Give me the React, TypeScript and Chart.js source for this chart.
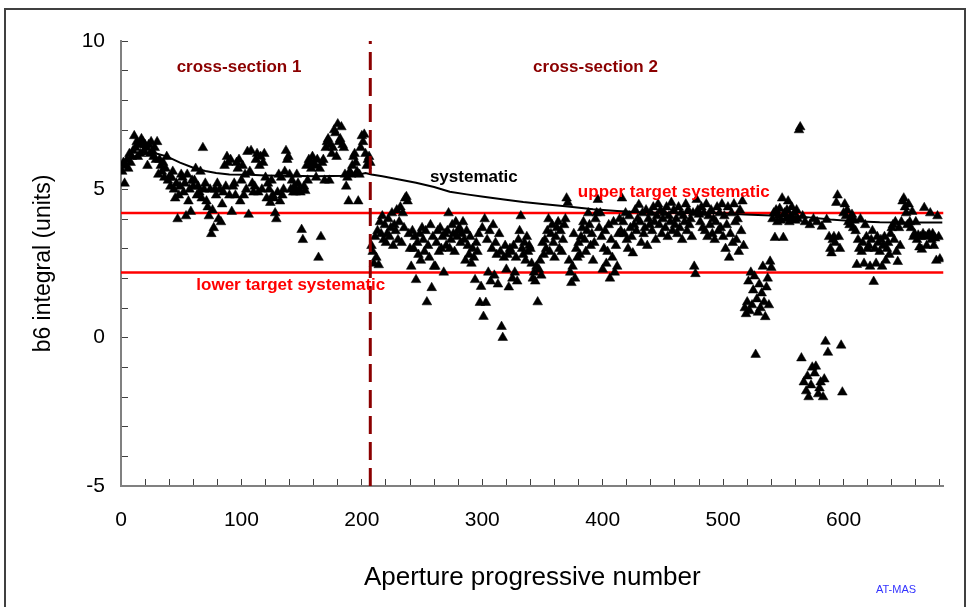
import React, { useEffect, useRef } from 'react';
import { Chart, registerables } from 'chart.js';

Chart.register(...registerables);

// ---- measured b6 values, aperture by aperture ----
const b6_001_100 = [
  5.6, 5.9, 5.2, 5.8, 6.0, 5.7, 6.2, 5.9, 6.1, 6.3,
  6.8, 6.4, 6.6, 6.1, 6.5, 6.2, 6.7, 6.6, 6.3, 6.5,
  6.4, 5.8, 6.5, 6.2, 6.6, 6.3, 6.1, 6.4, 6.0, 6.6,
  5.5, 6.0, 5.8, 5.6, 5.9, 5.4, 5.7, 6.1, 5.3, 5.4,
  5.1, 5.4, 5.6, 5.0, 4.7, 5.2, 4.0, 4.8, 5.1, 5.5,
  5.4, 4.9, 5.2, 4.1, 5.5, 4.6, 5.0, 4.25, 5.3, 5.1,
  5.3, 5.7, 4.8, 5.1, 4.9, 5.6, 4.7, 6.4, 5.0, 5.2,
  4.6, 4.4, 4.1, 5.0, 3.5, 4.3, 3.7, 5.0, 4.8, 5.2,
  4.0, 5.0, 3.9, 4.5, 4.9, 5.8, 5.1, 6.1, 5.9, 4.8,
  6.0, 4.25, 5.1, 5.2, 4.8, 5.9, 5.7, 6.0, 4.6, 5.3,
];
const b6_101_207 = [
  5.8, 4.8, 5.5, 5.0, 6.27, 4.15, 5.6, 6.3, 5.2, 4.9,
  5.1, 6.0, 6.2, 4.9, 5.8, 6.1, 5.0, 5.9, 6.2, 5.4,
  4.7, 5.2, 5.0, 4.55, 5.3, 4.8, 4.7, 4.2, 4.0, 4.9,
  5.5, 4.6, 5.4, 4.8, 5.0, 5.6, 6.3, 6.0, 6.1, 5.5,
  5.0, 5.3, 4.9, 5.1, 4.9, 5.5, 5.2, 5.0, 4.9, 3.64,
  3.3, 5.1, 4.95, 5.8, 5.3, 6.0, 5.9, 5.7, 6.1, 5.9,
  5.8, 5.4, 6.0, 2.7, 5.7, 3.4, 5.9, 6.0, 5.3, 6.4,
  6.6, 6.7, 5.3, 6.5, 6.2, 6.4, 7.0, 6.9, 6.1, 7.2,
  6.6, 6.7, 7.1, 6.5, 6.4, 5.5, 5.1, 5.4, 4.6, 5.6,
  5.5, 5.8, 6.1, 6.2, 5.9, 5.6, 4.6, 5.5, 6.4, 6.8,
  6.6, 6.85, 6.2, 5.8, 6.0, 6.1, 5.9,
];
const b6_208_300 = [
  3.1, 2.9, 2.5,
  3.4, 2.7, 3.6, 2.45, 3.9, 3.5, 4.1, 3.3, 3.8, 3.2,
  3.5, 4.0, 3.4, 3.7, 4.2, 3.1, 3.8, 3.6, 4.3, 3.3,
  3.9, 4.4, 3.2, 4.2, 3.7, 4.7, 4.75, 4.6, 3.5, 3.0,
  2.4, 3.6, 3.0, 3.4, 1.95, 3.2, 2.8, 3.5, 2.6, 3.7,
  3.3, 2.9, 3.6, 1.2, 3.1, 2.7, 3.8, 1.68, 3.4, 2.4,
  2.4, 3.2, 3.6, 2.9, 3.7, 3.0, 3.4, 2.2, 3.5, 3.1,
  3.6, 4.2, 3.0, 3.3, 3.8, 3.5, 2.9, 3.9, 3.4, 3.6,
  3.7, 3.2, 3.5, 3.9, 3.3, 2.6, 3.6, 3.1, 2.8, 3.4,
  2.5, 3.0, 2.7, 1.95, 3.2, 2.9, 3.5, 1.18, 1.72, 3.7,
];
const b6_301_400 = [
  0.71, 4.0, 1.18, 3.3, 2.2, 3.6, 1.9, 3.0, 3.8, 2.1,
  3.2, 2.8, 1.8, 3.5, 2.9, 0.37, 0.0, 2.7, 3.1, 2.3,
  2.8, 1.7, 3.0, 2.9, 2.0, 3.1, 2.2, 2.7, 1.9, 3.3,
  3.6, 4.1, 3.0, 2.8, 3.2, 2.6, 3.4, 2.9, 3.1, 3.0,
  2.5, 2.0, 2.2, 1.9, 2.4, 1.2, 2.3, 2.6, 2.1, 3.2,
  2.8, 3.3, 3.0, 3.6, 4.0, 2.9, 3.5, 3.8, 3.2, 2.7,
  3.4, 3.7, 3.9, 3.0, 3.6, 2.9, 3.3, 3.8, 4.0, 4.7,
  4.55, 2.6, 2.2, 1.85, 2.4, 3.5, 2.0, 3.0, 2.7, 3.2,
  2.8, 3.4, 3.7, 3.9, 3.3, 2.9, 3.6, 4.2, 3.8, 3.1,
  3.5, 2.6, 3.2, 4.0, 4.2, 4.65, 3.7, 4.2, 3.4, 2.3,
];
const b6_401_500 = [
  3.0, 3.6, 2.5, 2.9, 3.8, 2.0, 3.3, 2.7, 3.9, 2.2,
  3.1, 2.4, 3.5, 4.0, 3.6, 4.7, 3.9, 3.5, 4.2, 3.3,
  3.0, 4.1, 3.7, 3.4, 2.85, 3.8, 4.3, 3.6, 4.0, 4.48,
  3.9, 3.2, 4.2, 3.5, 3.7, 4.3, 3.1, 4.0, 3.8, 4.2,
  3.6, 4.4, 3.9, 3.3, 4.1, 4.5, 3.8, 4.3, 3.5, 4.0,
  4.2, 3.7, 4.4, 3.4, 4.1, 3.9, 4.55, 3.6, 4.3, 3.8,
  4.0, 3.5, 4.4, 3.7, 4.2, 3.3, 4.1, 3.9, 4.5, 3.6,
  4.3, 3.8, 4.0, 3.4, 4.2, 2.4, 2.15, 4.65, 4.3, 4.15,
  3.9, 4.4, 3.7, 4.2, 3.6, 4.5, 3.4, 4.1, 3.8, 4.3,
  3.5, 4.0, 3.3, 3.9, 4.4, 3.6, 4.2, 3.7, 4.5, 3.4,
];
const b6_501_600 = [
  4.1, 3.0, 3.8, 4.4, 2.7, 3.5, 4.2, 3.2, 4.5, 3.9,
  3.3, 4.0, 2.9, 4.3, 3.6, 4.6, 3.1, 1.0, 0.8, 1.2,
  1.9, 0.9, 2.2, 1.1, 1.6, 2.07, -0.57, 1.3, 0.85, 1.8,
  1.0, 1.5, 2.4, 1.2, 0.7, 1.7, 2.0, 1.1, 2.57, 2.36,
  4.0, 4.2, 3.37, 4.3, 3.9, 4.1, 4.35, 3.95, 4.7, 3.37,
  4.2, 4.0, 4.3, 4.6, 3.9, 4.1, 4.4, 4.0, 4.2, 3.95,
  4.3, 4.0, 7.0, 7.1, -0.69, 4.1, -1.5, 3.9, -1.8, -1.3,
  -2.0, 3.8, -1.6, -1.0, 4.0, -1.2, -0.97, 3.9, -1.9, -1.7,
  -1.5, 3.75, -2.0, -1.4, -0.13, 3.98, -0.5, 3.4, 3.0, 2.85,
  3.3, 3.4, 3.2, 4.55, 4.8, 3.4, 3.0, -0.26, -1.84, 4.2,
];
const b6_601_680 = [
  4.5, 4.1, 4.3, 3.9, 3.8, 4.0, 4.15, 3.7, 3.95, 3.6,
  2.46, 3.3, 3.0, 4.0, 2.9, 3.2, 2.5, 3.8, 3.4, 3.0,
  3.1, 2.4, 3.3, 3.6, 1.89, 3.0, 2.5, 3.4, 3.2, 2.9,
  3.3, 2.4, 3.1, 3.4, 2.6, 3.0, 3.2, 2.8, 3.5, 3.7,
  3.8, 3.3, 3.9, 2.9, 2.56, 3.7, 3.1, 3.9, 4.6, 4.7,
  4.4, 4.2, 3.8, 4.5, 3.9, 3.7, 4.25, 3.4, 3.5, 3.9,
  3.3, 3.45, 3.05, 3.4, 2.97, 3.5, 4.38, 3.4, 3.1, 3.45,
  3.5, 4.2, 3.3, 3.5, 3.1, 3.35, 2.6, 4.1, 3.4, 2.65,
];
const segmentStarts = [1, 101, 208, 301, 401, 501, 601];
const segmentValues = [b6_001_100, b6_101_207, b6_208_300, b6_301_400, b6_401_500, b6_501_600, b6_601_680];

// ---- systematic (running mean) curve ----
const systematicX = [0, 5, 13, 24, 30, 38, 49, 60, 70, 79, 90, 107, 120, 134, 150, 162, 175, 189, 198, 203, 208, 217, 231, 245, 260, 273, 287, 301, 318, 334, 352, 371, 392, 412, 430, 445, 470, 495, 518, 540, 565, 589, 610, 630, 655, 682];
const systematicY = [5.77, 5.95, 6.15, 6.22, 6.2, 6.11, 5.9, 5.73, 5.62, 5.55, 5.5, 5.49, 5.47, 5.46, 5.45, 5.44, 5.45, 5.46, 5.5, 5.55, 5.5, 5.44, 5.33, 5.22, 5.08, 4.92, 4.83, 4.75, 4.66, 4.57, 4.5, 4.42, 4.33, 4.27, 4.23, 4.21, 4.2, 4.2, 4.15, 4.12, 4.08, 3.98, 3.92, 3.89, 3.88, 3.88];

// ---- reference levels ----
const upperTarget = 4.2;
const lowerTarget = 2.2;
const sectionBoundary = 207;
const xMin = 0;
const xMax = 683;
const yMin = -5;
const yMax = 10;
const xLabelStep = 100;
const yLabelStep = 5;

const annotations = [
  { text: 'cross-section 1', x: 98, y: 9.1, color: '#8B0000' },
  { text: 'cross-section 2', x: 394, y: 9.1, color: '#8B0000' },
  { text: 'systematic', x: 293, y: 5.39, color: '#000000' },
  { text: 'upper target systematic', x: 459, y: 4.89, color: '#FF0000' },
  { text: 'lower target systematic', x: 141, y: 1.75, color: '#FF0000' },
];

const FONT = "'Liberation Sans', Arial, sans-serif";

export default function App() {
  const ref = useRef<HTMLCanvasElement | null>(null);

  useEffect(() => {
    const canvas = ref.current;
    if (!canvas) return;

    const points: { x: number; y: number }[] = [];
    segmentValues.forEach((vals, s) => {
      vals.forEach((v, i) => points.push({ x: segmentStarts[s] + i, y: v }));
    });
    const systematic = systematicX.map((x, i) => ({ x, y: systematicY[i] }));

    const framePlugin = {
      id: 'frame',
      beforeDraw(chart: any) {
        const ctx = chart.ctx;
        ctx.save();
        ctx.fillStyle = '#ffffff';
        ctx.fillRect(0, 0, chart.width, chart.height);
        ctx.restore();
      },
      afterDraw(chart: any) {
        const ctx = chart.ctx;
        ctx.save();
        ctx.strokeStyle = '#404040';
        ctx.lineWidth = 2;
        ctx.beginPath();
        ctx.moveTo(5, 612);
        ctx.lineTo(5, 9);
        ctx.lineTo(965, 9);
        ctx.lineTo(965, 612);
        ctx.stroke();
        ctx.font = `11px ${FONT}`;
        ctx.fillStyle = '#3333FF';
        ctx.textAlign = 'center';
        ctx.textBaseline = 'middle';
        ctx.fillText('AT-MAS', 896, 590);
        ctx.restore();
      },
    };

    const textPlugin = {
      id: 'annotText',
      afterDatasetsDraw(chart: any) {
        const ctx = chart.ctx;
        const xs = chart.scales.x;
        const ys = chart.scales.y;
        ctx.save();
        ctx.font = `bold 17px ${FONT}`;
        ctx.textAlign = 'center';
        ctx.textBaseline = 'middle';
        annotations.forEach((a) => {
          ctx.fillStyle = a.color;
          ctx.fillText(a.text, xs.getPixelForValue(a.x), ys.getPixelForValue(a.y));
        });
        ctx.restore();
      },
    };

    const chart = new Chart(canvas, {
      type: 'scatter',
      data: {
        datasets: [
          {
            label: 'section boundary',
            type: 'line',
            data: [{ x: sectionBoundary, y: yMin }, { x: sectionBoundary, y: yMax }],
            borderColor: '#8B0000',
            borderWidth: 3,
            borderDash: [18, 8],
            pointRadius: 0,
            showLine: true,
            fill: false,
          } as any,
          {
            label: 'b6',
            data: points,
            pointStyle: 'triangle',
            pointRadius: 5.6,
            backgroundColor: '#000000',
            borderColor: '#000000',
            borderWidth: 0.5,
            showLine: false,
          },
          {
            label: 'systematic',
            type: 'line',
            data: systematic,
            borderColor: '#000000',
            borderWidth: 2,
            pointRadius: 0,
            showLine: true,
            fill: false,
            tension: 0,
          } as any,
          {
            label: 'upper target',
            type: 'line',
            data: [{ x: xMin, y: upperTarget }, { x: xMax, y: upperTarget }],
            borderColor: '#FF0000',
            borderWidth: 2.5,
            pointRadius: 0,
            showLine: true,
            fill: false,
          } as any,
          {
            label: 'lower target',
            type: 'line',
            data: [{ x: xMin, y: lowerTarget }, { x: xMax, y: lowerTarget }],
            borderColor: '#FF0000',
            borderWidth: 2.5,
            pointRadius: 0,
            showLine: true,
            fill: false,
          } as any,
        ],
      },
      options: {
        responsive: false,
        animation: false,
        devicePixelRatio: 1,
        layout: { padding: { left: 0, top: 41, right: 22, bottom: 0 } },
        plugins: {
          legend: { display: false },
          tooltip: { enabled: false },
        },
        scales: {
          x: {
            type: 'linear',
            position: 'bottom',
            min: xMin,
            max: xMax,
            afterFit: (s: any) => { s.height = 121; },
            ticks: {
              stepSize: 20,
              autoSkip: false,
              includeBounds: false,
              maxRotation: 0,
              minRotation: 0,
              padding: 29,
              color: '#000000',
              font: { family: FONT, size: 21 },
              callback: (v: any) => (Number(v) % xLabelStep === 0 ? String(v) : ''),
            },
            grid: { drawOnChartArea: false, drawTicks: true, tickLength: -7, color: '#404040', lineWidth: 1 },
            border: { display: true, color: '#808080', width: 2 },
            title: {
              display: true,
              text: 'Aperture progressive number',
              color: '#000000',
              font: { family: FONT, size: 26 },
              padding: { top: 0, bottom: 14 },
            },
          },
          y: {
            type: 'linear',
            min: yMin,
            max: yMax,
            afterFit: (s: any) => { s.width = 121; },
            ticks: {
              stepSize: 1,
              autoSkip: false,
              includeBounds: false,
              padding: 23,
              color: '#000000',
              font: { family: FONT, size: 21 },
              callback: (v: any) => (Number(v) % yLabelStep === 0 ? String(v) : ''),
            },
            grid: { drawOnChartArea: false, drawTicks: true, tickLength: -7, color: '#404040', lineWidth: 1 },
            border: { display: true, color: '#808080', width: 2 },
            title: {
              display: true,
              text: 'b6 integral (units)',
              color: '#000000',
              font: { family: FONT, size: 23 },
              padding: { top: 30, bottom: 0 },
            },
          },
        },
      },
      plugins: [framePlugin, textPlugin],
    } as any);

    return () => chart.destroy();
  }, []);

  return (
    <div style={{ position: 'absolute', left: 0, top: 0, width: 969, height: 607, background: '#ffffff' }}>
      <canvas ref={ref} width={969} height={607} style={{ display: 'block', width: 969, height: 607 }} />
    </div>
  );
}
